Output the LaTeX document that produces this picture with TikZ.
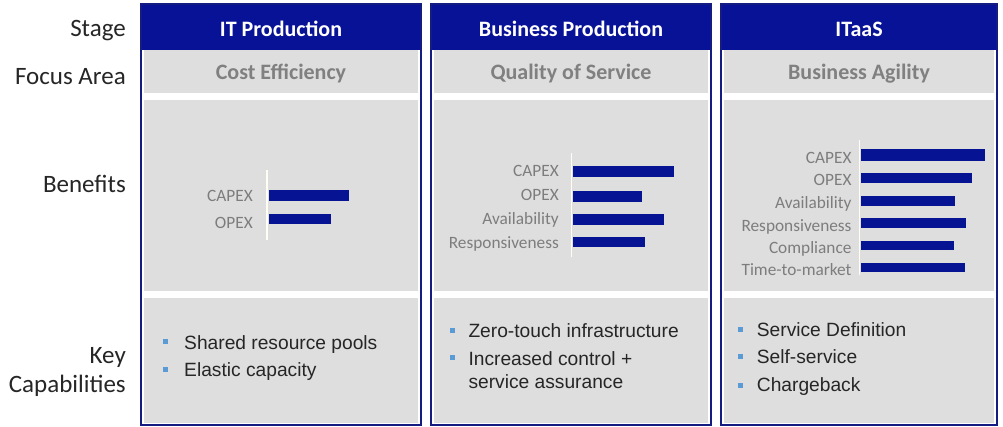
\documentclass[tikz,border=0pt]{standalone}
\usepackage{fontspec}
\setmainfont{Carlito}
\newfontfamily\arialf{Liberation Sans}
\definecolor{hdrblue}{RGB}{8,18,150}
\definecolor{brdblue}{RGB}{20,28,130}
\definecolor{barblue}{RGB}{6,20,148}
\definecolor{panelgray}{RGB}{222,222,222}
\definecolor{lblgray}{RGB}{128,128,128}
\definecolor{txtgray}{RGB}{125,125,125}
\definecolor{bulletblue}{RGB}{91,155,213}
\tikzset{
  rowlabel/.style={anchor=base east, inner sep=0pt, font=\fontsize{25}{29}\selectfont, text=black!85},
  hdrtext/.style={anchor=base, inner sep=0pt, font=\fontsize{22}{26}\selectfont\bfseries, text=white},
  focustext/.style={anchor=base, inner sep=0pt, font=\fontsize{22}{26}\selectfont\bfseries, text=lblgray},
  benlabel/.style={anchor=base east, inner sep=0pt, font=\fontsize{17.3}{20}\selectfont, text=txtgray},
  captext/.style={anchor=base west, inner sep=0pt, font=\arialf\fontsize{19.2}{22}\selectfont, text=black!85},
  bulletsq/.style={fill=bulletblue, draw=none, minimum size=5pt, inner sep=0pt, rectangle},
  barfill/.style={fill=barblue},
  axisline/.style={draw=white!96!yellow, line width=1.6pt},
  panel/.style={fill=panelgray, draw=none},
  border/.style={draw=brdblue, line width=2pt}
}
\begin{document}
\begin{tikzpicture}[x=1pt,y=-1pt]
\useasboundingbox (0,0) rectangle (1003,427);
\fill[white] (0,0) rectangle (1003,427);

% row labels
\node[rowlabel] (lstage) at (126,37) {Stage};
\node[rowlabel] (lfocus) at (126,85) {Focus Area};
\node[rowlabel] (lbenefits) at (126,193) {Benefits};
\node[rowlabel] (lkey) at (126,363) {Key};
\node[rowlabel] (lcap) at (126,392) {Capabilities};

% columns: x0, x1
\foreach \xa/\xb/\nm in {141/421/a, 431/711/b, 721/997/c}{
  \fill[panel] (\xa+3,50) rectangle (\xb-3,93);
  \fill[panel] (\xa+3,100) rectangle (\xb-3,291);
  \fill[panel] (\xa+3,298) rectangle (\xb-3,423);
  \fill[hdrblue] (\xa,4) rectangle (\xb,50);
  \draw[border] (\xa,4) rectangle (\xb,425);
}

% headers
\node[hdrtext] (h1) at (281,37) {IT Production};
\node[hdrtext] (h2) at (571,37) {Business Production};
\node[hdrtext] (h3) at (859,37) {ITaaS};
\node[focustext] (f1) at (281,80) {Cost Efficiency};
\node[focustext] (f2) at (571,80) {Quality of Service};
\node[focustext] (f3) at (859,80) {Business Agility};

% benefits column 1
\draw[axisline] (267,170) -- (267,240);
\fill[barfill] (269,190) rectangle (349,201);
\fill[barfill] (269,214) rectangle (331,224);
\node[benlabel] (b1a) at (253,202) {CAPEX};
\node[benlabel] (b1b) at (253,229) {OPEX};

% benefits column 2
\draw[axisline] (571.5,153) -- (571.5,257);
\fill[barfill] (573,165.7) rectangle (674,177.3);
\fill[barfill] (573,190.7) rectangle (642,201.7);
\fill[barfill] (573,214.3) rectangle (664,225);
\fill[barfill] (573,236.7) rectangle (645,247.3);
\node[benlabel] (b2a) at (559,176.7) {CAPEX};
\node[benlabel] (b2b) at (559,201) {OPEX};
\node[benlabel] (b2c) at (559,224.3) {Availability};
\node[benlabel] (b2d) at (559,249) {Responsiveness};

% benefits column 3
\draw[axisline] (859.3,140) -- (859.3,275);
\fill[barfill] (861,149.3) rectangle (985,160.7);
\fill[barfill] (861,172.7) rectangle (972,183.3);
\fill[barfill] (861,196) rectangle (955,206);
\fill[barfill] (861,218.3) rectangle (966,228.3);
\fill[barfill] (861,240.7) rectangle (954,250);
\fill[barfill] (861,262.7) rectangle (965,271.7);
\node[benlabel] (b3a) at (851.7,163.3) {CAPEX};
\node[benlabel] (b3b) at (851.7,185.7) {OPEX};
\node[benlabel] (b3c) at (851.7,208.3) {Availability};
\node[benlabel] (b3d) at (851.7,231.7) {Responsiveness};
\node[benlabel] (b3e) at (851.7,254) {Compliance};
\node[benlabel] (b3f) at (851.7,276) {Time-to-market};

% capabilities column 1
\node[bulletsq] (k1a) at (165,341.7) {};
\node[bulletsq] (k1b) at (165,369.3) {};
\node[captext] (c1a) at (184,349) {Shared resource pools};
\node[captext] (c1b) at (184,376.7) {Elastic capacity};

% capabilities column 2
\node[bulletsq] (k2a) at (452,330.7) {};
\node[bulletsq] (k2b) at (452,357.7) {};
\node[captext] (c2a) at (468.3,337.3) {Zero-touch infrastructure};
\node[captext] (c2b) at (468.3,365) {Increased control +};
\node[captext] (c2c) at (468.3,388.3) {service assurance};

% capabilities column 3
\node[bulletsq] (k3a) at (740,329.3) {};
\node[bulletsq] (k3b) at (740,356) {};
\node[bulletsq] (k3c) at (740,385.3) {};
\node[captext] (c3a) at (756.7,336) {Service Definition};
\node[captext] (c3b) at (756.7,363.3) {Self-service};
\node[captext] (c3c) at (756.7,391.7) {Chargeback};
\end{tikzpicture}
\end{document}
